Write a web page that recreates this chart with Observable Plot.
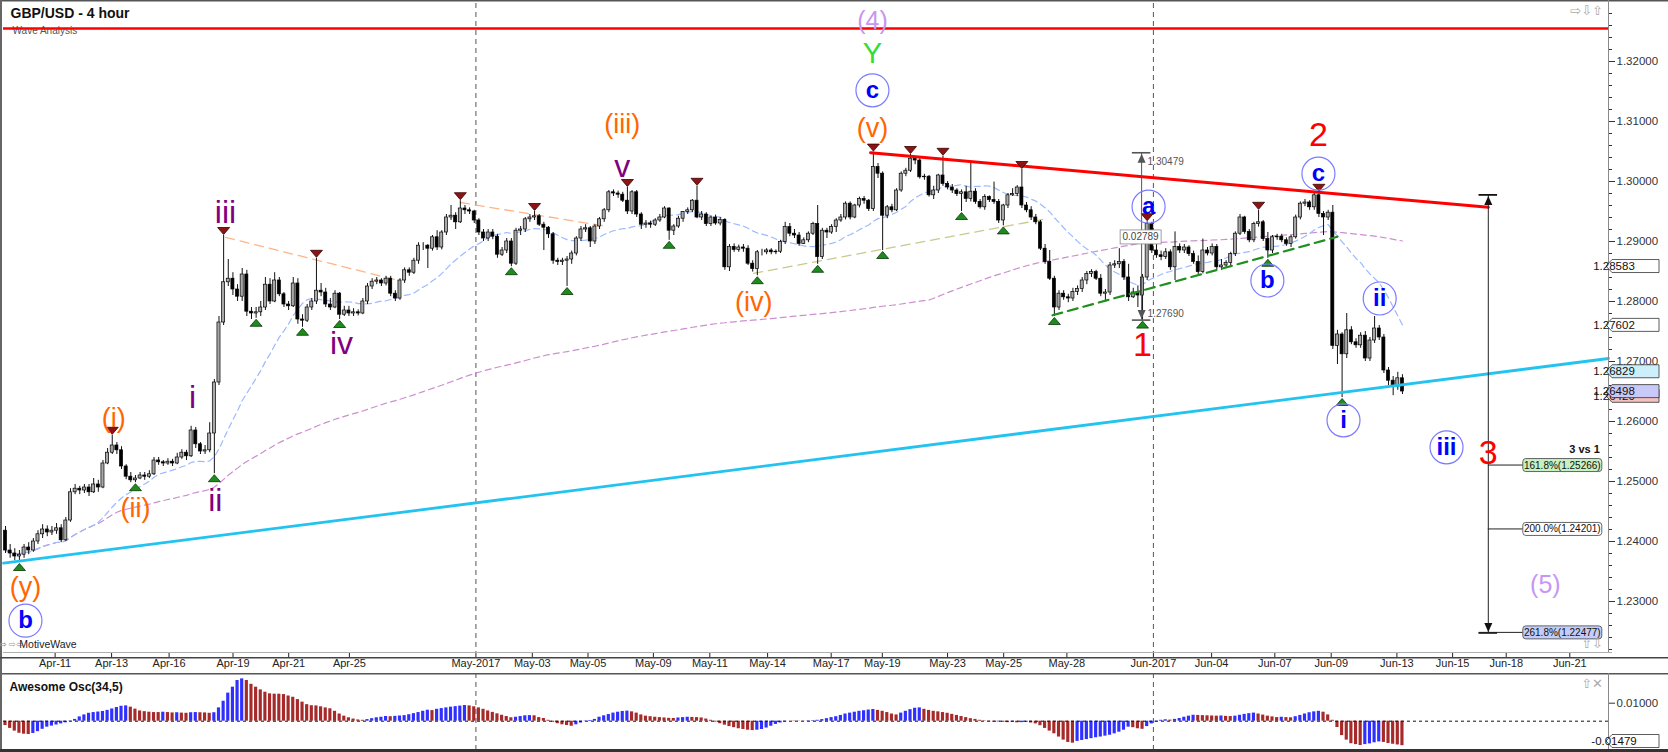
<!DOCTYPE html>
<html><head><meta charset="utf-8">
<script src="https://cdn.jsdelivr.net/npm/d3@7"></script>
<script src="https://cdn.jsdelivr.net/npm/@observablehq/plot@0.6"></script>
<style>
html,body{margin:0;padding:0;background:#fff;}
#chart{width:1668px;height:752px;overflow:hidden;}
#chart svg{display:block;}
</style></head><body><div id="chart"></div>
<script>
// ---------- DATA (prices in 1/10000, e.g. 12418 = 1.2418) ----------
const chartTitle = "GBP/USD - 4 hour";
const chartSubtitle = "Wave Analysis";
const firstOpen = 12418;
const highs = [
12425,12395,12388,12385,12395,12398,12405,12418,12428,12426,
12425,12430,12428,12440,12488,12495,12492,12495,12495,12505,
12502,12535,12555,12577,12565,12558,12528,12515,12510,12515,
12515,12518,12540,12540,12535,12538,12537,12547,12553,12552,
12592,12590,12565,12560,12598,12670,12775,12910,12870,12848,
12828,12855,12852,12790,12790,12800,12840,12838,12848,12840,
12815,12800,12840,12838,12778,12795,12805,12872,12830,12822,
12805,12818,12815,12792,12792,12788,12786,12805,12830,12838,
12840,12838,12842,12842,12818,12838,12856,12856,12872,12898,
12898,12895,12910,12918,12918,12945,12960,12948,12968,12960,
12956,12952,12938,12920,12920,12920,12912,12890,12905,12905,
12922,12925,12940,12945,12950,12945,12932,12925,12915,12872,
12872,12875,12884,12908,12925,12928,12925,12928,12940,12955,
12985,12986,12984,12982,12990,12985,12985,12948,12935,12934,
12938,12945,12958,12956,12928,12942,12950,12956,12970,12992,
12950,12948,12942,12944,12940,12938,12895,12896,12894,12895,
12893,12868,12885,12887,12888,12888,12886,12902,12932,12930,
12920,12915,12906,12916,12932,12960,12922,12922,12928,12938,
12945,12966,12966,12962,12974,12975,12970,13049,13030,13016,
12960,12962,12988,13016,13022,13045,13040,13038,13012,13010,
12992,13012,13042,13000,12995,12988,12986,12992,13030,12988,
12970,12978,12976,12999,12970,12962,12980,12988,12993,13020,
12965,12958,12945,12935,12895,12885,12842,12818,12818,12812,
12822,12826,12840,12850,12853,12852,12845,12820,12865,12868,
12888,12870,12862,12822,12826,12845,12933,12932,12895,12884,
12888,12886,12916,12896,12895,12893,12884,12876,12904,12890,
12896,12895,12870,12868,12882,12916,12945,12942,12920,12932,
12952,12935,12915,12910,12912,12912,12906,12910,12944,12966,
12970,12968,12980,12982,12950,12952,12960,12752,12748,12780,
12758,12738,12748,12750,12740,12775,12760,12745,12690,12675,
12682,12678];
const lows = [
12380,12372,12368,12365,12372,12378,12382,12395,12405,12408,
12410,12412,12398,12400,12432,12478,12478,12480,12475,12480,
12482,12488,12528,12545,12545,12520,12503,12498,12498,12503,
12502,12505,12510,12527,12525,12527,12525,12528,12537,12535,
12540,12555,12545,12545,12548,12513,12660,12760,12825,12810,
12800,12800,12775,12770,12772,12775,12785,12795,12798,12808,
12790,12785,12790,12762,12757,12765,12785,12795,12808,12790,
12785,12788,12770,12775,12775,12775,12776,12778,12795,12820,
12828,12825,12826,12808,12800,12802,12830,12842,12845,12862,
12885,12855,12884,12885,12886,12910,12935,12920,12930,12945,
12945,12930,12910,12900,12900,12903,12872,12875,12880,12858,
12860,12910,12915,12932,12935,12925,12885,12905,12862,12860,
12860,12825,12862,12876,12900,12915,12890,12895,12920,12932,
12948,12975,12972,12965,12945,12945,12940,12920,12922,12922,
12925,12932,12938,12902,12910,12922,12932,12945,12948,12938,
12935,12925,12925,12927,12926,12852,12850,12882,12882,12882,
12860,12849,12843,12876,12878,12878,12878,12880,12895,12908,
12905,12892,12895,12898,12910,12862,12870,12905,12912,12915,
12932,12936,12936,12938,12956,12962,12950,12950,13005,12885,
12938,12948,12950,12982,13008,13015,13028,13004,13002,12974,
12970,12980,12992,12986,12980,12975,12950,12965,12966,12962,
12954,12952,12965,12962,12930,12926,12955,12975,12975,12955,
12948,12935,12928,12885,12862,12835,12775,12785,12802,12798,
12800,12810,12815,12828,12840,12835,12808,12800,12810,12855,
12855,12835,12800,12805,12790,12769,12835,12880,12872,12868,
12870,12852,12835,12880,12880,12875,12862,12845,12846,12876,
12876,12852,12852,12855,12858,12875,12910,12912,12898,12898,
12924,12900,12872,12880,12902,12898,12892,12890,12904,12936,
12958,12952,12952,12940,12910,12935,12720,12695,12640,12705,
12728,12722,12722,12700,12700,12730,12735,12680,12660,12643,
12652,12645];
const closes = [
12385,12380,12375,12378,12390,12385,12400,12412,12420,12415,
12418,12422,12402,12435,12482,12488,12485,12490,12482,12495,
12490,12530,12548,12560,12552,12525,12508,12502,12505,12510,
12508,12512,12535,12532,12530,12533,12530,12540,12548,12542,
12585,12562,12550,12552,12580,12665,12765,12832,12838,12820,
12808,12845,12783,12780,12782,12790,12828,12800,12835,12812,
12795,12792,12830,12770,12768,12790,12800,12818,12815,12795,
12790,12813,12778,12785,12780,12782,12780,12800,12825,12833,
12835,12830,12838,12813,12805,12835,12852,12848,12868,12893,
12893,12888,12907,12890,12915,12940,12943,12932,12955,12952,
12950,12935,12915,12905,12915,12908,12878,12885,12900,12863,
12918,12920,12937,12940,12942,12928,12923,12912,12868,12866,
12868,12870,12880,12905,12920,12922,12900,12925,12937,12952,
12982,12980,12978,12968,12950,12982,12945,12928,12930,12928,
12935,12940,12955,12918,12925,12938,12949,12952,12968,12940,
12945,12929,12940,12930,12936,12857,12891,12886,12890,12888,
12863,12854,12882,12882,12885,12882,12883,12899,12924,12913,
12910,12896,12902,12913,12929,12874,12918,12915,12924,12935,
12940,12963,12940,12960,12971,12968,12954,13024,13013,12943,
12957,12952,12985,13013,13018,13038,13035,13007,13008,12977,
12985,13010,12996,12990,12985,12979,12982,12971,12983,12966,
12957,12974,12969,12966,12935,12960,12977,12979,12990,12960,
12952,12940,12932,12888,12866,12838,12790,12813,12807,12805,
12816,12821,12835,12846,12849,12838,12813,12815,12860,12862,
12866,12840,12807,12815,12810,12840,12929,12885,12877,12874,
12882,12857,12891,12885,12890,12879,12866,12849,12885,12880,
12891,12857,12860,12864,12879,12913,12940,12916,12902,12929,
12932,12904,12885,12907,12908,12902,12896,12907,12940,12963,
12965,12957,12977,12946,12940,12948,12726,12745,12712,12752,
12732,12727,12743,12705,12735,12755,12740,12685,12668,12658,
12672,12650];
// Awesome Oscillator (34,5), in 1/10000
const aoValues = [
-24,-40,-55,-67,-72,-74,-68,-58,-45,-33,
-27,-21,-15,-9,-2,10,24,35,44,48,
51,54,60,68,76,83,85,78,67,57,
53,50,48,48,50,48,46,47,45,44,
47,48,47,46,44,47,74,111,156,189,
226,235,226,205,189,174,161,152,150,150,
148,140,133,120,106,92,86,85,80,74,
69,55,40,28,19,12,7,5,9,14,
19,22,26,25,27,29,31,36,42,48,
55,61,59,66,70,74,78,81,84,87,
85,80,74,66,57,49,41,33,26,19,
22,26,30,31,30,20,15,5,-6,-14,
-20,-24,-28,-20,-10,-2,4,10,22,30,
37,45,50,54,56,52,45,35,28,25,
22,20,18,16,15,18,20,22,21,20,
18,12,5,-5,-14,-22,-30,-36,-42,-46,
-50,-52,-50,-46,-38,-28,-18,-10,-4,0,
-2,1,-1,2,3,5,9,14,20,25,
32,40,45,50,55,58,62,65,60,55,
48,40,35,45,55,64,72,74,66,60,
55,52,48,44,38,32,26,20,14,10,
5,2,-3,-5,-4,-6,-8,-6,-9,-8,
-7,-10,-15,-25,-40,-55,-70,-88,-105,-118,
-122,-112,-107,-102,-97,-92,-88,-83,-78,-70,
-61,-50,-33,-36,-42,-45,-30,-15,-5,5,
8,6,10,15,22,28,33,32,31,30,
29,28,29,27,26,28,33,38,42,45,
40,34,28,24,20,22,20,19,25,32,
40,47,52,55,50,35,5,-35,-80,-105,
-125,-130,-135,-130,-126,-120,-115,-118,-124,-128,
-132,-136];

// x axis: tick positions in candle-index units and their labels
const tickIdx = [10.69,22.86,35.25,49.02,61.02,74.10,101.36,113.51,125.51,139.60,151.76,164.21,177.91,188.93,202.99,215.08,228.70,247.34,259.88,273.50,285.65,299.81,311.81,323.36,337.06];
const tickLabels = ["Apr-11","Apr-13","Apr-16","Apr-19","Apr-21","Apr-25","May-2017","May-03","May-05","May-09","May-11","May-14","May-17","May-19","May-23","May-25","May-28","Jun-2017","Jun-04","Jun-07","Jun-09","Jun-13","Jun-15","Jun-18","Jun-21"];
const monthStarts = [101.36, 247.34];
const priceTicks = [1.23,1.24,1.25,1.26,1.27,1.28,1.29,1.30,1.31,1.32];
const aoTicks = [0.01];

// swing pivots (candle indexes)
const pivotHighs = [23,47,67,98,114,134,149,187,195,202,219,246,270,283];
const pivotLows = [3,28,45,54,64,72,109,121,143,162,175,189,206,215,226,245,272,288];

// wave labels: text, candle index, price
const orangeWaves = [{t:"(y)",i:4.3,p:1.2324},{t:"(i)",i:23.3,p:1.2605},{t:"(ii)",i:28.0,p:1.2455},{t:"(iii)",i:132.9,p:1.3095},{t:"(iv)",i:161.2,p:1.2798},{t:"(v)",i:186.8,p:1.3088}];
const purpleWaves = [{t:"i",i:40.3,p:1.2640},{t:"ii",i:45.2,p:1.2468},{t:"iii",i:47.4,p:1.2948},{t:"iv",i:72.4,p:1.2730},{t:"v",i:132.9,p:1.3024}];
const blueCircled = [{t:"b",i:4.3,p:1.2268},{t:"c",i:186.8,p:1.3152},{t:"a",i:246.3,p:1.2958},{t:"b",i:271.9,p:1.2835},{t:"c",i:282.9,p:1.3013},{t:"i",i:288.3,p:1.2602},{t:"ii",i:296.1,p:1.2805},{t:"iii",i:310.5,p:1.2557}];
const redWaves = [{t:"1",i:245.0,p:1.2727},{t:"2",i:282.9,p:1.3077},{t:"3",i:319.5,p:1.2547}];
const greenWaves = [{t:"Y",i:186.8,p:1.32125}];
const lavenderWaves = [{t:"(4)",i:186.8,p:1.32675},{t:"(5)",i:331.8,p:1.2327}];

// drawn lines (candle index, price)
const resistanceLevel = 1.3255;
const redTrend = [{i:186.4,p:1.3048},{i:319.5,p:1.2957}];
const cyanTrend = [{i:-0.43,p:1.2364},{i:345.4,p:1.2705}];
const greenTrend = [{i:225.6,p:1.2777},{i:287.0,p:1.2908}];
const peachTrend1 = [{i:47.4,p:1.2907},{i:84.7,p:1.2835}];
const peachTrend2 = [{i:98.0,p:1.2965},{i:129.7,p:1.2925}];
const khakiTrend = [{i:161.2,p:1.2847},{i:223.7,p:1.2937}];

// measurement and fibonacci tools
const measureA = {i:244.8, hi:1.30479, lo:1.27690, diff:"0.02789"};
const fibTool = {i:319.5, top:1.29777, bottom:1.22477, title:"3 vs 1"};
const fibLevels = [{pct:"161.8%",p:1.25266},{pct:"200.0%",p:1.24201},{pct:"261.8%",p:1.22477}];
// right axis value tags
const priceTags = [{v:1.28583,t:"1.28583"},{v:1.27602,t:"1.27602"},{v:1.26829,t:"1.26829"},{v:1.26420,t:"1.26420"},{v:1.26498,t:"1.26498"}];
const aoTag = {v:-0.01479, t:"-0.01479"};

// ---------- BUILD ----------
const FONT = "'Liberation Sans', Arial, Helvetica, sans-serif";
const X_DOMAIN = [-0.431, 345.4];
const Y_DOMAIN = [1.2215, 1.329667];

const candles = closes.map((c, i) => {
  const o = (i === 0 ? firstOpen : closes[i - 1]) / 1e4;
  const cc = c / 1e4;
  return {i, o, c: cc, h: Math.max(highs[i] / 1e4, o, cc), l: Math.min(lows[i] / 1e4, o, cc)};
});
function sma(k) {
  return candles.map((d, i) => ({i, v: d3.mean(candles.slice(Math.max(0, i - k + 1), i + 1), e => e.c)}));
}
const sma20 = sma(20), sma200 = sma(200);
const aoData = aoValues.map((v, i) => ({i, v: v / 1e4, up: i > 0 && v > aoValues[i - 1]}));
const tickMap = new Map(tickIdx.map((t, k) => [t, tickLabels[k]]));

const triDown = {draw(c){c.moveTo(-6,-3.5);c.lineTo(6,-3.5);c.lineTo(0,3.5);c.closePath();}};
const triUp = {draw(c){c.moveTo(-6,3.5);c.lineTo(6,3.5);c.lineTo(0,-3.5);c.closePath();}};
const arrUp = {draw(c){c.moveTo(0,-4.5);c.lineTo(4,4.5);c.lineTo(-4,4.5);c.closePath();}};
const arrDown = {draw(c){c.moveTo(0,4.5);c.lineTo(4,-4.5);c.lineTo(-4,-4.5);c.closePath();}};

const minorTicks = d3.range(1.222, 1.3291, 0.002).filter(v => Math.abs(Math.round(v * 100) - v * 100) > 1e-6);

const waveText = (data, opts) => Plot.text(data, {x: "i", y: "p", text: "t", fontFamily: FONT, lineAnchor: "middle", ...opts});
const lineOf = (data, opts) => Plot.line(data, {x: "i", y: "p", ...opts});

const mainPlot = Plot.plot({
  width: 1668, height: 673,
  marginTop: 3, marginBottom: 21, marginLeft: 3, marginRight: 60,
  style: {fontFamily: FONT, background: "#fff", overflow: "visible"},
  x: {domain: X_DOMAIN},
  y: {domain: Y_DOMAIN},
  marks: [
    Plot.text([chartTitle], {frameAnchor: "top-left", dx: 7, dy: 10, textAnchor: "start", lineAnchor: "middle", fontSize: 14, fontWeight: "bold", fill: "#111"}),
    Plot.text([chartSubtitle], {frameAnchor: "top-left", dx: 9, dy: 27, textAnchor: "start", lineAnchor: "middle", fontSize: 10, fill: "#555"}),
    Plot.ruleX(monthStarts, {stroke: "#555", strokeDasharray: "5,4"}),
    Plot.line(sma200, {x: "i", y: "v", stroke: "#cc8fd0", strokeWidth: 1.2, strokeDasharray: "6,4"}),
    Plot.line(sma20, {x: "i", y: "v", stroke: "#9db9ff", strokeWidth: 1.2, strokeDasharray: "6,4"}),
    lineOf(peachTrend1, {stroke: "#ffb487", strokeWidth: 1.3, strokeDasharray: "9,6"}),
    lineOf(peachTrend2, {stroke: "#ffb487", strokeWidth: 1.3, strokeDasharray: "9,6"}),
    lineOf(khakiTrend, {stroke: "#c9c98e", strokeWidth: 1.3, strokeDasharray: "9,6"}),
    Plot.ruleX(candles, {x: "i", y1: "l", y2: "h", stroke: "#111", strokeWidth: 1}),
    Plot.rect(candles, {x1: d => d.i - 0.33, x2: d => d.i + 0.33, y1: d => Math.min(d.o, d.c), y2: d => Math.max(d.o, d.c), fill: d => d.c >= d.o ? "#a8a8a8" : "#000", stroke: "#000", strokeWidth: 0.7}),
    Plot.ruleY([resistanceLevel], {stroke: "#ff0000", strokeWidth: 2.6}),
    lineOf(cyanTrend, {stroke: "#22c3f0", strokeWidth: 2.8}),
    lineOf(redTrend, {stroke: "#ff0000", strokeWidth: 3}),
    lineOf(greenTrend, {stroke: "#1f8f1f", strokeWidth: 2.2, strokeDasharray: "10,6"}),
    Plot.dot(pivotHighs, {x: d => d, y: d => candles[d].h, symbol: triDown, fill: "#8c1414", stroke: "#3a0000", strokeWidth: 0.8, dy: -4.5}),
    Plot.dot(pivotLows, {x: d => d, y: d => candles[d].l, symbol: triUp, fill: "#1d8c1d", stroke: "#063806", strokeWidth: 0.8, dy: 4.5}),
    // measurement tool
    Plot.ruleX([measureA], {x: "i", y1: "lo", y2: "hi", stroke: "#555", strokeWidth: 1}),
    Plot.ruleY([measureA.hi, measureA.lo], {x1: measureA.i - 2, x2: measureA.i + 2, stroke: "#555", strokeWidth: 1.6}),
    Plot.dot([measureA], {x: "i", y: "hi", symbol: arrUp, fill: "#555", dy: 5.5}),
    Plot.dot([measureA], {x: "i", y: "lo", symbol: arrDown, fill: "#555", dy: -5.5}),
    Plot.text([measureA], {x: "i", y: "hi", text: d => d3.format(".5f")(d.hi), dx: 6, dy: 9, textAnchor: "start", fontSize: 10, fill: "#555"}),
    Plot.text([measureA], {x: "i", y: "lo", text: d => d3.format(".5f")(d.lo), dx: 6, dy: -6, textAnchor: "start", fontSize: 10, fill: "#555"}),
    // fib tool
    Plot.ruleX([fibTool], {x: "i", y1: "bottom", y2: "top", stroke: "#222", strokeWidth: 1}),
    Plot.ruleY([fibTool.top, fibTool.bottom], {x1: fibTool.i - 2, x2: fibTool.i + 2, stroke: "#111", strokeWidth: 1.8}),
    Plot.dot([fibTool], {x: "i", y: "top", symbol: arrUp, fill: "#111", dy: 5.5}),
    Plot.dot([fibTool], {x: "i", y: "bottom", symbol: arrDown, fill: "#111", dy: -5.5}),
    // wave labels
    waveText(orangeWaves, {fill: "#ff6600", fontSize: 27}),
    waveText(purpleWaves, {fill: "#800080", fontSize: 32}),
    Plot.dot(blueCircled, {x: "i", y: "p", r: 16.5, stroke: "#7b7bff", strokeWidth: 1.2, fill: "none"}),
    waveText(blueCircled, {fill: "#0000ff", fontSize: 24, fontWeight: "bold"}),
    waveText(redWaves, {fill: "#ff0000", fontSize: 34}),
    waveText(greenWaves, {fill: "#33dd33", fontSize: 29}),
    waveText(lavenderWaves, {fill: "#c796f4", fontSize: 25}),
    // axes
    Plot.axisY({anchor: "right", ticks: minorTicks, tickSize: 3, tickFormat: () => "", label: null, color: "#333"}),
    Plot.axisY({anchor: "right", ticks: priceTicks, tickSize: 6, tickPadding: 2, tickFormat: d3.format(".5f"), label: null, fontSize: 11.5, color: "#333"}),
    Plot.axisX({anchor: "bottom", ticks: tickIdx, tickFormat: d => tickMap.get(d), tickSize: 5, tickPadding: 2, label: null, fontSize: 11, color: "#222"})
  ]
});

const oscPlot = Plot.plot({
  width: 1668, height: 79,
  marginTop: 0, marginBottom: 3, marginLeft: 3, marginRight: 60,
  style: {fontFamily: FONT, background: "#fff", overflow: "visible"},
  x: {domain: X_DOMAIN, axis: null},
  y: {domain: [-0.01572, 0.0265]},
  marks: [
    Plot.ruleX(monthStarts, {stroke: "#555", strokeDasharray: "5,4"}),
    Plot.rect(aoData, {x1: d => d.i - 0.34, x2: d => d.i + 0.34, y1: 0, y2: "v", fill: d => d.up ? "#2f2fff" : "#a62a2a"}),
    Plot.ruleY([0], {stroke: "#111", strokeDasharray: "3,3"}),
    Plot.text(["Awesome Osc(34,5)"], {frameAnchor: "top-left", dx: 6, dy: 14, textAnchor: "start", lineAnchor: "middle", fontSize: 12, fontWeight: "bold", fill: "#111"}),
    Plot.axisY({anchor: "right", ticks: aoTicks, tickSize: 6, tickPadding: 2, tickFormat: d3.format(".5f"), label: null, fontSize: 11.5, color: "#333"})
  ]
});

// ---------- decorations using the plots' own scales ----------
const sx = mainPlot.scale("x"), sy = mainPlot.scale("y");
const gM = d3.select(mainPlot).append("g").attr("font-family", FONT);
const line = (g, x1, y1, x2, y2, stroke, w) => g.append("line").attr("x1", x1).attr("y1", y1).attr("x2", x2).attr("y2", y2).attr("stroke", stroke).attr("stroke-width", w);
line(gM, 0, 0.75, 1668, 0.75, "#555", 1.5);
line(gM, 1, 0, 1, 673, "#666", 2);
line(gM, 1608.5, 0, 1608.5, 652, "#8a8a8a", 1);
line(gM, 3, 652.5, 1612, 652.5, "#b0b0b0", 1);
line(gM, 0, 657.8, 1668, 657.8, "#444", 1.5);

function tag(g, y, text, fill) {
  const x0 = 1606, x1 = 1612, x2 = 1659, h = 13;
  const grp = g.append("g");
  grp.append("path").attr("d", `M${x0},${y}L${x1},${y - h / 2}L${x2},${y - h / 2}L${x2},${y + h / 2}L${x1},${y + h / 2}Z`)
    .attr("fill", fill).attr("stroke", "#333").attr("stroke-width", 0.8);
  grp.append("text").attr("x", x1 + 2).attr("y", y).attr("dy", "0.35em").attr("font-size", 11.5).attr("fill", "#111").text(text);
}
const tagFill = ["#ffffff", "#ffffff", "#cdeffb", "#f4c0c0", "#c9c9f7"];
priceTags.forEach((d, k) => tag(gM, sy.apply(d.v), d.t, tagFill[k]));

// measurement difference box
{
  const x = sx.apply(measureA.i), ym = (sy.apply(measureA.hi) + sy.apply(measureA.lo)) / 2 + 1;
  gM.append("rect").attr("x", x - 21).attr("y", ym - 7).attr("width", 41).attr("height", 14).attr("fill", "#fff").attr("stroke", "#888").attr("stroke-width", 0.8);
  gM.append("text").attr("x", x - 0.5).attr("y", ym).attr("dy", "0.35em").attr("text-anchor", "middle").attr("font-size", 10).attr("fill", "#444").text(measureA.diff);
}
// fibonacci level boxes
{
  const x = sx.apply(fibTool.i);
  const fills = ["#c8f0c0", "#ffffff", "#c3cdf7"];
  fibLevels.forEach((d, k) => {
    const y = sy.apply(d.p);
    line(gM, k === 2 ? x - 9 : x, y, x + 35, y, "#222", 1);
    gM.append("rect").attr("x", x + 35).attr("y", y - 6.5).attr("width", 79).attr("height", 13).attr("rx", 3)
      .attr("fill", fills[k]).attr("stroke", "#555").attr("stroke-width", 0.9);
    gM.append("text").attr("x", x + 74.5).attr("y", y).attr("dy", "0.35em").attr("text-anchor", "middle").attr("font-size", 10).attr("fill", "#111")
      .text(`${d.pct}(${d3.format(".5f")(d.p)})`);
  });
  gM.append("text").attr("x", x + 112).attr("y", sy.apply(fibLevels[0].p) - 16).attr("dy", "0.35em").attr("text-anchor", "end")
    .attr("font-size", 11).attr("font-weight", "bold").attr("fill", "#111").text(fibTool.title);
}
// interface glyphs
gM.append("text").attr("x", 1603).attr("y", 10).attr("dy", "0.35em").attr("text-anchor", "end").attr("font-family", "DejaVu Sans").attr("font-size", 13).attr("fill", "#aaa").text("⇨⇩⇧");
gM.append("text").attr("x", 1603).attr("y", 643).attr("dy", "0.35em").attr("text-anchor", "end").attr("font-family", "DejaVu Sans").attr("font-size", 13).attr("fill", "#aaa").text("⇧⇩");
gM.append("text").attr("x", 11).attr("y", 644).attr("dy", "0.35em").attr("font-family", "DejaVu Sans").attr("font-size", 8.5).attr("fill", "#999").text("⇔ ⇨⇦");
gM.append("text").attr("x", 48).attr("y", 644).attr("dy", "0.35em").attr("font-size", 10.5).attr("fill", "#222").text("MotiveWave");

const syo = oscPlot.scale("y");
const gO = d3.select(oscPlot).append("g").attr("font-family", FONT);
line(gO, 0, 0.75, 1668, 0.75, "#555", 1.5);
line(gO, 1, 0, 1, 79, "#666", 2);
line(gO, 1608.5, 0, 1608.5, 76, "#8a8a8a", 1);
line(gO, 0, 77.5, 1668, 77.5, "#333", 3);
tag(gO, Math.min(syo.apply(aoTag.v), 68), aoTag.t, "#ffffff");
gO.append("text").attr("x", 1603).attr("y", 10).attr("dy", "0.35em").attr("text-anchor", "end").attr("font-family", "DejaVu Sans").attr("font-size", 13).attr("fill", "#aaa").text("⇧✕");

const root = document.getElementById("chart");
root.appendChild(mainPlot);
root.appendChild(oscPlot);
</script></body></html>
